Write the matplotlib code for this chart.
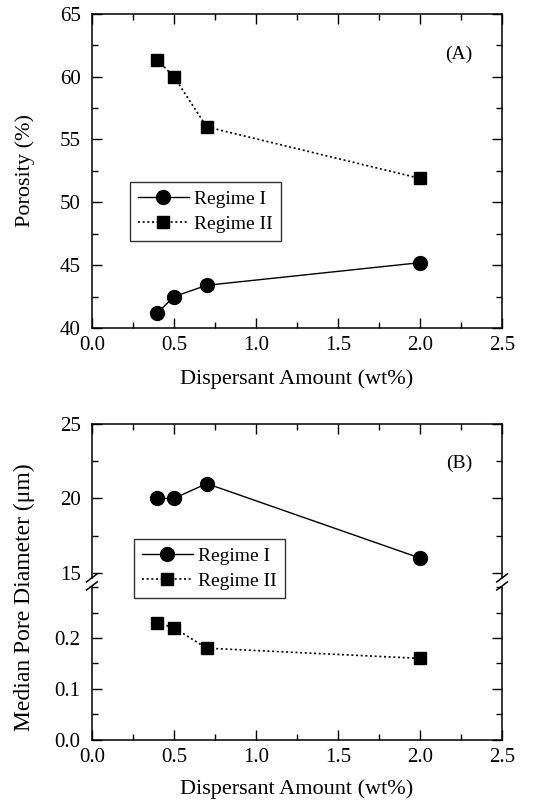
import matplotlib
matplotlib.use("Agg")
import matplotlib.pyplot as plt
from matplotlib.ticker import MultipleLocator

plt.rcParams['font.family'] = ['Liberation Serif', 'DejaVu Serif']
plt.rcParams['font.size'] = 14

# dispersant amount (wt%)
dispersant = [0.4, 0.5, 0.7, 2.0]

# porosity (%)
porosity_r1 = [41.2, 42.5, 43.4, 45.2]
porosity_r2 = [61.3, 60.0, 56.0, 51.9]

# median pore diameter (um)
pore_r1 = [20.0, 20.0, 21.0, 16.0]
pore_r2 = [0.23, 0.22, 0.18, 0.16]

x_ticks = [0.0, 0.5, 1.0, 1.5, 2.0, 2.5]
dots = (0, (1.2, 1.6))


def style_axis(ax, xlabels=True):
    ax.set_xlim(0.0, 2.5)
    ax.xaxis.set_major_locator(MultipleLocator(0.5))
    ax.xaxis.set_minor_locator(MultipleLocator(0.25))
    ax.tick_params(which='both', direction='in', top=True, right=True,
                   labelsize=15, width=1)
    ax.tick_params(which='major', length=7)
    ax.tick_params(which='minor', length=4)
    ax.tick_params(axis='y', pad=8)
    ax.tick_params(axis='x', pad=6)
    if xlabels:
        ax.set_xticks(x_ticks)
        ax.set_xticklabels([f"{v:.1f}" for v in x_ticks])
    for s in ax.spines.values():
        s.set_linewidth(1.1)


def main():
    fig = plt.figure(figsize=(5.37, 8.06), dpi=100)

    # (A) porosity
    ax1 = fig.add_axes([0.171, 0.593, 0.764, 0.390])
    ax1.plot(dispersant, porosity_r1, '-', color='black', lw=1.0,
             marker='o', ms=10, label='Regime I')
    ax1.plot(dispersant, porosity_r2, linestyle=dots, color='black', lw=1.2,
             marker='s', ms=8.5, label='Regime II')
    ax1.set_ylim(40, 65)
    ax1.yaxis.set_major_locator(MultipleLocator(5))
    ax1.yaxis.set_minor_locator(MultipleLocator(2.5))
    style_axis(ax1)
    ax1.set_ylabel('Porosity (%)', fontsize=16, labelpad=18)
    ax1.set_xlabel('Dispersant Amount (wt%)', fontsize=16, labelpad=10)
    ax1.text(0.895, 0.87, '(A)', transform=ax1.transAxes, fontsize=14,
             ha='center', va='center')
    leg = ax1.legend(loc='upper left', bbox_to_anchor=(0.07, 0.495),
                     frameon=True, fancybox=False, edgecolor='black',
                     fontsize=14, handlelength=2.6, borderpad=0.4,
                     labelspacing=0.4, handletextpad=0.3)
    leg.get_frame().set_linewidth(1.0)

    # (B) median pore diameter, broken y axis
    ax_hi = fig.add_axes([0.171, 0.278, 0.764, 0.196])
    ax_lo = fig.add_axes([0.171, 0.082, 0.764, 0.196])

    h1, = ax_hi.plot(dispersant, pore_r1, '-', color='black', lw=1.0,
                     marker='o', ms=10, label='Regime I')
    h2, = ax_lo.plot(dispersant, pore_r2, linestyle=dots, color='black',
                     lw=1.2, marker='s', ms=8.5, label='Regime II')

    ax_hi.set_ylim(14.4, 25)
    ax_hi.set_yticks([15, 20, 25])
    ax_hi.yaxis.set_minor_locator(MultipleLocator(2.5))
    style_axis(ax_hi, xlabels=False)
    ax_hi.tick_params(which='both', labelbottom=False, bottom=False)
    ax_hi.spines['bottom'].set_visible(False)

    ax_lo.set_ylim(0.0, 0.31)
    ax_lo.set_yticks([0.0, 0.1, 0.2])
    ax_lo.set_yticklabels(['0.0', '0.1', '0.2'])
    ax_lo.yaxis.set_minor_locator(MultipleLocator(0.05))
    style_axis(ax_lo)
    ax_lo.tick_params(which='both', top=False)
    ax_lo.spines['top'].set_visible(False)
    ax_lo.set_xlabel('Dispersant Amount (wt%)', fontsize=16, labelpad=9)

    fig.text(0.045, 0.259, 'Median Pore Diameter (\u03bcm)', rotation=90,
             fontsize=17, ha='center', va='center')
    ax_hi.text(0.895, 0.75, '(B)', transform=ax_hi.transAxes, fontsize=14,
               ha='center', va='center')

    # break marks on both side spines
    d = 0.010
    for xb in (0.0, 1.0):
        fig.add_artist(plt.Rectangle(
            (0.171 + 0.764 * xb - 0.004, 0.278 - 0.004), 0.008, 0.008,
            transform=fig.transFigure, color='white', zorder=3))
        for off in (-0.005, 0.005):
            fig.add_artist(plt.Line2D(
                [0.171 + 0.764 * xb - d, 0.171 + 0.764 * xb + d],
                [0.278 + off - d * 0.5, 0.278 + off + d * 0.5],
                transform=fig.transFigure, color='black', lw=1.1,
                zorder=4))

    leg2 = fig.legend([h1, h2], ['Regime I', 'Regime II'],
                      loc='upper left', bbox_to_anchor=(0.232, 0.343),
                      frameon=True, fancybox=False, edgecolor='black',
                      fontsize=14, handlelength=2.6, borderpad=0.4,
                      labelspacing=0.4, handletextpad=0.3)
    leg2.get_frame().set_linewidth(1.0)

    fig.savefig('out.png', dpi=100)


if __name__ == "__main__":
    main()
